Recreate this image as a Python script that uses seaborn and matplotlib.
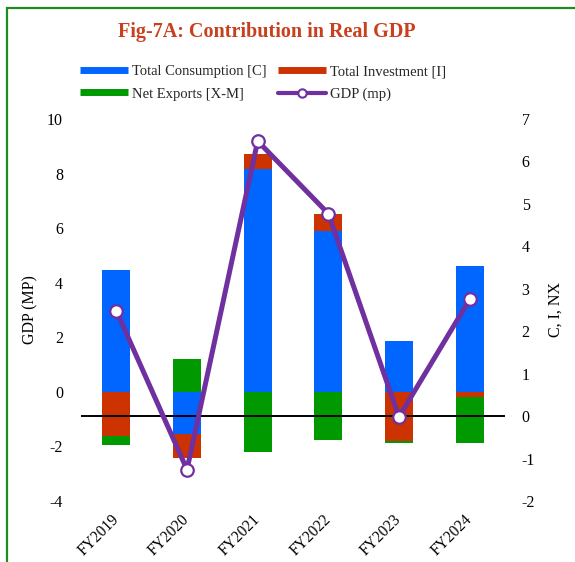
import numpy as np
import matplotlib
matplotlib.use("Agg")
import matplotlib.pyplot as plt
import seaborn as sns
from matplotlib.lines import Line2D
from matplotlib.patches import Rectangle

years = ["FY2019", "FY2020", "FY2021", "FY2022", "FY2023", "FY2024"]
consumption = [4.48, -1.54, 8.16, 5.88, 1.87, 4.62]
investment = [-1.63, -0.90, 0.57, 0.65, -1.80, -0.19]
net_exports = [-0.33, 1.21, -2.20, -1.75, -0.09, -1.67]
gdp = [2.48, -1.26, 6.48, 4.77, -0.02, 2.75]

left_ticks = [-4, -2, 0, 2, 4, 6, 8, 10]
right_ticks = [-2, -1, 0, 1, 2, 3, 4, 5, 6, 7]

C_COL, I_COL, NX_COL, GDP_COL = "#0066FF", "#CC3300", "#009900", "#7030A0"

sns.set_theme(style="white")
plt.rcParams["font.family"] = ["Liberation Serif", "DejaVu Serif"]
plt.rcParams["axes.unicode_minus"] = False

W, H = 575, 562
fig = plt.figure(figsize=(W / 100, H / 100), dpi=100)
ax = fig.add_axes([81 / W, 1 - 501 / H, (505 - 81) / W, (501 - 119) / H])
ax2 = ax.twinx()

series = [
    ("Total Consumption [C]", consumption, C_COL),
    ("Total Investment [I]", investment, I_COL),
    ("Net Exports [X-M]", net_exports, NX_COL),
]
pos = np.zeros(len(years))
neg = np.zeros(len(years))
for label, vals, col in series:
    v = np.array(vals, dtype=float)
    bottom = np.where(v >= 0, pos, neg)
    sns.barplot(x=years, y=v, bottom=bottom, color=col, width=0.4,
                saturation=1, errorbar=None, linewidth=0, ax=ax)
    pos += np.where(v >= 0, v, 0)
    neg += np.where(v < 0, v, 0)

ax2.axhline(0, color="black", lw=1.4, zorder=1)
sns.lineplot(x=np.arange(len(years)), y=gdp, ax=ax2, color=GDP_COL, lw=3.6,
             marker="o", markersize=9, markerfacecolor="white",
             markeredgecolor=GDP_COL, markeredgewidth=1.6, legend=False, zorder=3)

ax.set_xlim(-0.5, len(years) - 0.5)
ax.set_ylim(-4, 10)
ax2.set_ylim(-2, 7)
ax.set_yticks(left_ticks)
ax2.set_yticks(right_ticks)
ax.set_xticks(np.arange(len(years)))
ax.set_xticklabels(years, rotation=45, ha="right", va="center",
                   rotation_mode="anchor")

for a in (ax, ax2):
    for s in a.spines.values():
        s.set_visible(False)
    a.grid(False)
ax.tick_params(axis="y", length=0, pad=13, labelsize=11.5, labelcolor="black")
ax2.tick_params(axis="y", length=0, pad=12, labelsize=11.5, labelcolor="black")
ax.tick_params(axis="x", length=0, pad=11.5, labelsize=11.2, labelcolor="black")
ax.set_xlabel("")
ax2.set_xlabel("")
ax.set_ylabel("GDP (MP)", fontsize=11.5, color="black", labelpad=6)
ax2.set_ylabel("C, I, NX", fontsize=11.5, color="black", labelpad=9)

fig.text(267 / W, 1 - 32 / H, "Fig-7A: Contribution in Real GDP", ha="center",
         va="center", fontsize=14.5, fontweight="bold", color="#C8401E")

handles = [
    Line2D([], [], color=C_COL, lw=5, solid_capstyle="butt"),
    Line2D([], [], color=NX_COL, lw=5, solid_capstyle="butt"),
    Line2D([], [], color=I_COL, lw=5, solid_capstyle="butt"),
    Line2D([], [], color=GDP_COL, lw=3, marker="o", markersize=6,
           markerfacecolor="white", markeredgecolor=GDP_COL, markeredgewidth=1.5),
]
labels = ["Total Consumption [C]", "Net Exports [X-M]", "Total Investment [I]", "GDP (mp)"]
fig.legend(handles, labels, loc="center", bbox_to_anchor=(263 / W, 1 - 83 / H),
           ncol=2, frameon=False, fontsize=10.5, handlelength=3.3,
           handletextpad=0.3, columnspacing=0.75, labelspacing=0.62, borderpad=0)

fig.patches.append(Rectangle((7 / W, -0.1), 1.2, 1 - 7.5 / H + 0.1,
                             transform=fig.transFigure, fill=False,
                             edgecolor="#1E8C1E", lw=1.6))

fig.savefig("out.png", dpi=100)
